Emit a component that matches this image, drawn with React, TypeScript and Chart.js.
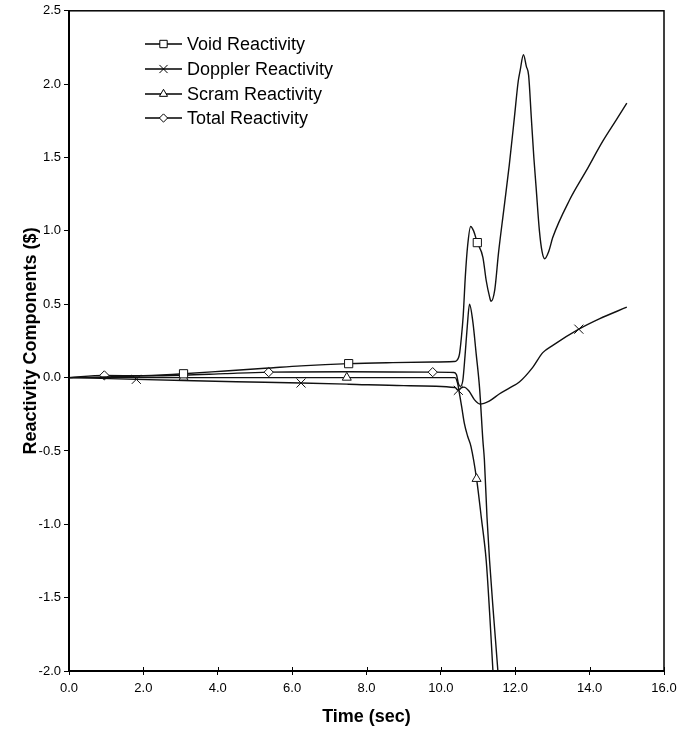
import React, { useEffect, useRef } from 'react';
import { Chart, registerables } from 'chart.js';

Chart.register(...registerables);

// ---- data ----
const xTickValues = [0, 2, 4, 6, 8, 10, 12, 14, 16];

const voidTime = [0, 1.0, 2.0, 3.08, 4.2, 5.37, 6.24, 7.52, 8.7, 9.78, 10.35, 10.42, 10.5, 10.55, 10.6, 10.66, 10.72, 10.8, 10.88, 10.98, 11.13, 11.22, 11.31, 11.35, 11.45, 11.55, 11.69, 11.84, 11.98, 12.08, 12.13, 12.22, 12.3, 12.36, 12.43, 12.5, 12.56, 12.65, 12.72, 12.79, 12.9, 13.01, 13.46, 13.91, 14.35, 14.7, 15.0];
const voidValue = [0, 0.005, 0.012, 0.026, 0.045, 0.065, 0.08, 0.095, 0.102, 0.106, 0.11, 0.115, 0.16, 0.27, 0.42, 0.7, 0.9, 1.03, 1.0, 0.92, 0.82, 0.66, 0.55, 0.52, 0.6, 0.85, 1.14, 1.45, 1.78, 2.02, 2.09, 2.2, 2.12, 2.06, 1.78, 1.5, 1.3, 1.0, 0.86, 0.81, 0.86, 0.956, 1.21, 1.41, 1.61, 1.75, 1.87];
const voidMarkers = [3.08, 7.52, 10.98];

const dopplerTime = [0, 1.81, 3.08, 4.5, 6.24, 7.52, 9.0, 10.38, 10.47, 10.55, 10.62, 10.75, 10.9, 11.05, 11.3, 11.58, 11.85, 12.11, 12.47, 12.74, 13.01, 13.71, 14.26, 15.0];
const dopplerValue = [0, -0.012, -0.02, -0.028, -0.037, -0.045, -0.055, -0.068, -0.087, -0.07, -0.065, -0.09, -0.15, -0.18, -0.16, -0.11, -0.07, -0.03, 0.07, 0.17, 0.22, 0.33, 0.4, 0.48];
const dopplerMarkers = [1.81, 6.24, 10.47, 13.71];

const scramTime = [0, 3.08, 7.47, 10.38, 10.45, 10.5, 10.56, 10.63, 10.72, 10.81, 10.96, 11.09, 11.22, 11.31, 11.4, 11.46];
const scramValue = [0, 0, 0, 0, -0.04, -0.11, -0.2, -0.31, -0.4, -0.47, -0.69, -0.96, -1.25, -1.6, -2.0, -2.25];
const scramMarkers = [3.08, 7.47, 10.96];

const totalTime = [0, 0.95, 2.0, 3.08, 4.2, 5.37, 7.5, 9.78, 10.35, 10.42, 10.47, 10.52, 10.59, 10.65, 10.71, 10.77, 10.86, 10.95, 11.04, 11.13, 11.17, 11.24, 11.31, 11.42, 11.53, 11.6];
const totalValue = [0, 0.015, 0.012, 0.016, 0.027, 0.037, 0.04, 0.037, 0.035, 0.02, -0.04, -0.06, -0.02, 0.15, 0.35, 0.5, 0.38, 0.16, -0.07, -0.43, -0.56, -0.95, -1.25, -1.63, -1.99, -2.25];
const totalMarkers = [0.95, 5.37, 9.78];

const seriesLabels = ['Void Reactivity', 'Doppler Reactivity', 'Scram Reactivity', 'Total Reactivity'];

const FONT = "'Liberation Sans', Arial, sans-serif";

type Style = 'rect' | 'crossRot' | 'triangle' | 'rectRot';
const markerStyles: Style[] = ['rect', 'crossRot', 'triangle', 'rectRot'];
const markerRadii = [5.8, 6.4, 5.2, 4.6];

function drawMarker(ctx: CanvasRenderingContext2D, style: Style, x: number, y: number, r: number) {
  ctx.beginPath();
  if (style === 'rect') {
    const s = Math.SQRT1_2 * r;
    ctx.rect(x - s, y - s, 2 * s, 2 * s);
    ctx.fill();
    ctx.stroke();
  } else if (style === 'rectRot') {
    ctx.moveTo(x - r, y);
    ctx.lineTo(x, y - r);
    ctx.lineTo(x + r, y);
    ctx.lineTo(x, y + r);
    ctx.closePath();
    ctx.fill();
    ctx.stroke();
  } else if (style === 'triangle') {
    let a = 0;
    ctx.moveTo(x + Math.sin(a) * r, y - Math.cos(a) * r);
    a += (2 * Math.PI) / 3;
    ctx.lineTo(x + Math.sin(a) * r, y - Math.cos(a) * r);
    a += (2 * Math.PI) / 3;
    ctx.lineTo(x + Math.sin(a) * r, y - Math.cos(a) * r);
    ctx.closePath();
    ctx.fill();
    ctx.stroke();
  } else {
    const d = Math.SQRT1_2 * r;
    ctx.moveTo(x - d, y - d);
    ctx.lineTo(x + d, y + d);
    ctx.moveTo(x - d, y + d);
    ctx.lineTo(x + d, y - d);
    ctx.stroke();
  }
}

const framePlugin = {
  id: 'framePlugin',
  afterDraw(chart: any) {
    const { ctx, chartArea } = chart;
    const { left, right, top, bottom } = chartArea;
    const x = chart.scales.x;
    ctx.save();
    ctx.strokeStyle = '#000';
    ctx.lineWidth = 1.5;
    ctx.strokeRect(left, top, right - left, bottom - top);
    ctx.lineWidth = 1;
    for (const t of xTickValues) {
      const px = Math.round(x.getPixelForValue(t)) + 0.5;
      ctx.beginPath();
      ctx.moveTo(px, bottom);
      ctx.lineTo(px, bottom - 4);
      ctx.stroke();
    }
    // legend
    const rowY = [44, 69, 94, 118];
    ctx.font = `18px ${FONT}`;
    ctx.textBaseline = 'middle';
    ctx.textAlign = 'left';
    for (let i = 0; i < seriesLabels.length; i++) {
      const y = rowY[i];
      ctx.strokeStyle = '#000';
      ctx.lineWidth = 1.3;
      ctx.beginPath();
      ctx.moveTo(145, y);
      ctx.lineTo(182, y);
      ctx.stroke();
      ctx.fillStyle = '#fff';
      ctx.lineWidth = 1;
      drawMarker(ctx, markerStyles[i], 163.5, y, markerRadii[i] * 0.9);
      ctx.fillStyle = '#000';
      ctx.fillText(seriesLabels[i], 187, y + 1);
    }
    ctx.restore();
  },
};

function makeSeries(times: number[], values: number[]) {
  return times.map((t, i) => ({ x: t, y: values[i] }));
}

export default function App() {
  const canvasRef = useRef<HTMLCanvasElement | null>(null);

  useEffect(() => {
    const canvas = canvasRef.current;
    if (!canvas) return;
    const sets = [
      { t: voidTime, v: voidValue, m: voidMarkers },
      { t: dopplerTime, v: dopplerValue, m: dopplerMarkers },
      { t: scramTime, v: scramValue, m: scramMarkers },
      { t: totalTime, v: totalValue, m: totalMarkers },
    ];
    const datasets = sets.map((s, i) => ({
      label: seriesLabels[i],
      data: makeSeries(s.t, s.v),
      borderColor: '#111',
      borderWidth: 1.4,
      backgroundColor: '#fff',
      pointStyle: markerStyles[i],
      pointBorderColor: '#111',
      pointBackgroundColor: '#fff',
      pointBorderWidth: 1,
      pointRadius: (ctx: any) => (ctx.raw && s.m.includes(ctx.raw.x) ? markerRadii[i] : 0),
      pointHoverRadius: 0,
      cubicInterpolationMode: 'monotone' as const,
      fill: false,
      showLine: true,
    }));

    const chart = new Chart(canvas, {
      type: 'scatter',
      data: { datasets },
      plugins: [framePlugin],
      options: {
        responsive: false,
        animation: false,
        events: [],
        layout: { padding: { left: 0, right: 24, top: 10, bottom: 0 } },
        plugins: {
          legend: { display: false },
          tooltip: { enabled: false },
        },
        scales: {
          x: {
            type: 'linear',
            min: 0,
            max: 16,
            afterFit: (scale: any) => {
              scale.height = 58;
            },
            ticks: {
              stepSize: 2,
              color: '#000',
              font: { family: FONT, size: 13 },
              padding: 6,
              maxRotation: 0,
              callback: (v: any) => Number(v).toFixed(1),
            },
            grid: { drawOnChartArea: false, drawTicks: true, tickLength: 4, color: '#000' },
            border: { display: true, color: '#000', width: 2 },
            title: {
              display: true,
              text: 'Time (sec)',
              color: '#000',
              font: { family: FONT, size: 18, weight: 'bold', lineHeight: 1.2 },
              padding: { top: 0, bottom: 1 },
            },
          },
          y: {
            type: 'linear',
            min: -2,
            max: 2.5,
            afterFit: (scale: any) => {
              scale.width = 69;
            },
            ticks: {
              stepSize: 0.5,
              color: '#000',
              font: { family: FONT, size: 13 },
              padding: 3,
              callback: (v: any) => Number(v).toFixed(1),
            },
            grid: { drawOnChartArea: false, drawTicks: true, tickLength: 5, color: '#000' },
            border: { display: true, color: '#000', width: 2 },
            title: {
              display: true,
              text: 'Reactivity Components ($)',
              color: '#000',
              font: { family: FONT, size: 18, weight: 'bold', lineHeight: 1.2 },
              padding: { top: 20, bottom: 0 },
            },
          },
        },
      },
    } as any);
    return () => chart.destroy();
  }, []);

  return (
    <div style={{ position: 'fixed', left: 0, top: 0, width: 688, height: 729, background: '#fff' }}>
      <canvas ref={canvasRef} width={688} height={729} style={{ display: 'block' }} />
    </div>
  );
}
